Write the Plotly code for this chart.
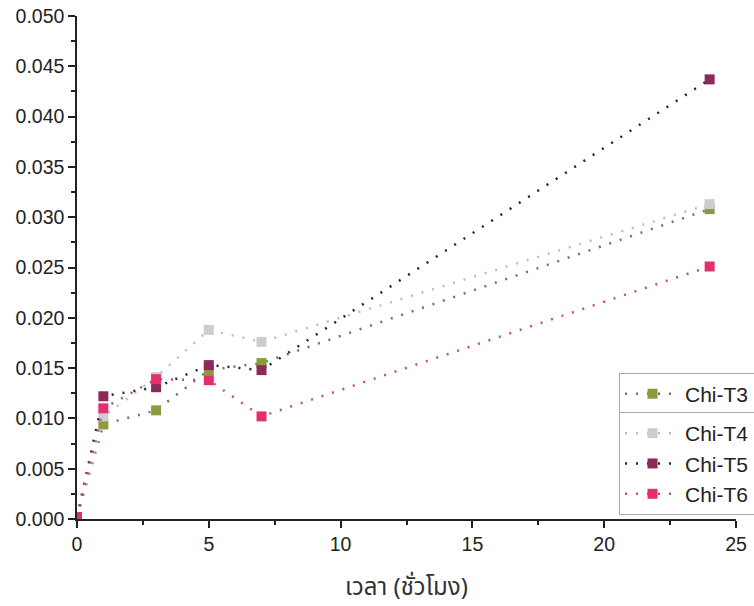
import plotly.graph_objects as go

time_h = [0, 1, 3, 5, 7, 24]
chi_t3 = [0.0002, 0.0094, 0.0108, 0.0148, 0.0155, 0.0308]
chi_t4 = [0.0002, 0.0102, 0.0141, 0.0188, 0.0176, 0.0313]
chi_t5 = [0.0002, 0.0122, 0.0131, 0.0153, 0.0148, 0.0437]
chi_t6 = [0.0002, 0.0110, 0.0139, 0.0138, 0.0102, 0.0251]

series = [
    ("Chi-T3", chi_t3, "#8c9a3c", "#6e7468", "legend"),
    ("Chi-T4", chi_t4, "#cdcdcd", "#bdbdbd", "legend2"),
    ("Chi-T5", chi_t5, "#8e2a5a", "#2d2030", "legend2"),
    ("Chi-T6", chi_t6, "#e2306e", "#c4507a", "legend2"),
]

fig = go.Figure()
for name, ys, mcol, lcol, leg in series:
    fig.add_trace(go.Scatter(
        x=time_h, y=ys, name=name, mode="lines+markers",
        line=dict(color=lcol, width=2.5, dash="2px,9px"),
        marker=dict(symbol="square", size=10, color=mcol),
        legend=leg,
    ))

axis_font = dict(family="Liberation Sans, Arial, sans-serif", size=19.5, color="#222")
leg_font = dict(family="Liberation Sans, Arial, sans-serif", size=21, color="#222")
fig.update_layout(
    width=754, height=606,
    margin=dict(l=77, r=18, t=16, b=87, autoexpand=False),
    paper_bgcolor="white", plot_bgcolor="white",
    showlegend=True,
    font=dict(family="Liberation Sans, Arial, sans-serif", color="#222"),
    xaxis=dict(
        range=[0, 25], tickvals=[0, 5, 10, 15, 20, 25], automargin=False,
        showgrid=False, zeroline=False, showline=True, linecolor="#222", linewidth=1.5,
        ticks="outside", ticklen=7, tickwidth=1.5, tickcolor="#222",
        minor=dict(ticks="outside", dtick=2.5, ticklen=4, tickwidth=1.5, tickcolor="#222"),
        tickfont=axis_font,
        title=dict(text="เวลา (ชั่วโมง)", font=dict(family="Noto Sans Thai, Loma, Garuda, Noto Sans, sans-serif", size=24, color="#333"), standoff=30),
    ),
    yaxis=dict(
        range=[0, 0.050], tickvals=[i * 0.005 for i in range(11)], tickformat=".3f", automargin=False,
        showgrid=False, zeroline=False, showline=True, linecolor="#222", linewidth=1.5,
        ticks="outside", ticklen=7, tickwidth=1.5, tickcolor="#222",
        minor=dict(ticks="outside", dtick=0.0025, ticklen=4, tickwidth=1.5, tickcolor="#222"),
        tickfont=axis_font,
    ),
    legend=dict(
        x=0.8225, y=0.291, xanchor="left", yanchor="top",
        bordercolor="#aaa", borderwidth=1, bgcolor="white",
        font=leg_font, tracegroupgap=0, itemwidth=55,
    ),
    legend2=dict(
        x=0.8225, y=0.2127, xanchor="left", yanchor="top",
        bordercolor="#aaa", borderwidth=1, bgcolor="white",
        font=leg_font, tracegroupgap=0, itemwidth=55,
    ),
)

fig.write_html("out.html")
